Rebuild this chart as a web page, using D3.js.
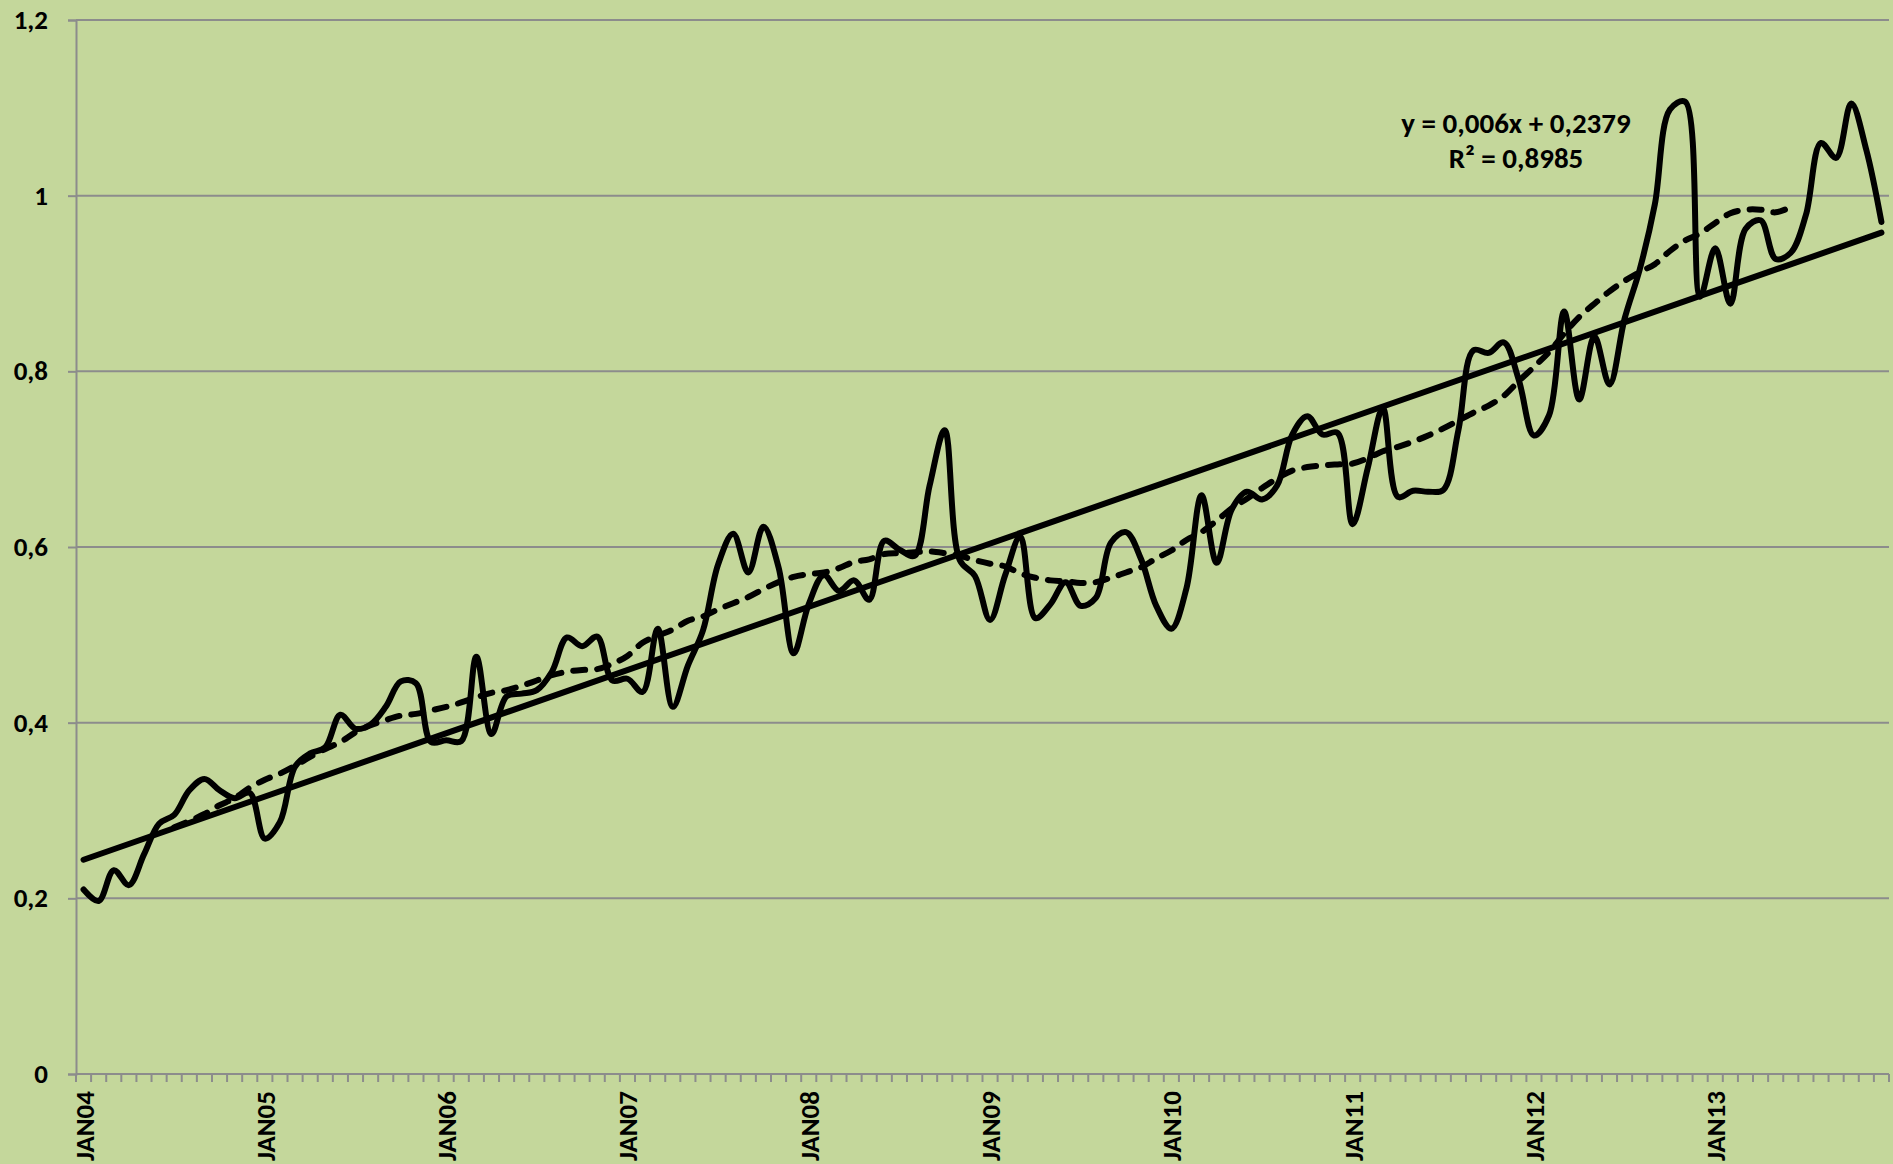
<!DOCTYPE html>
<html>
<head>
<meta charset="utf-8">
<script src="https://cdn.jsdelivr.net/npm/d3@7"></script>
<style>
html,body{margin:0;padding:0;background:#C4D79B;}
svg{display:block;}
text{font-family:Calibri,Carlito,Lato,"Open Sans",sans-serif;font-weight:bold;fill:#000;}
</style>
</head>
<body>
<svg id="chart" width="1893" height="1164"></svg>
<script>
const years = ["04","05","06","07","08","09","10","11","12","13"];
const monthNames = ["JAN","FEB","MAR","APR","MAY","JUN","JUL","AUG","SEP","OCT","NOV","DEC"];
const categories = [];
years.forEach(yr => monthNames.forEach(m => categories.push(m + yr)));
const tickLabels = ["JAN04","JAN05","JAN06","JAN07","JAN08","JAN09","JAN10","JAN11","JAN12","JAN13"];
const yTicks = [0,0.2,0.4,0.6,0.8,1,1.2];

const values = [
  0.210,0.197,0.232,0.215,0.250,0.285,0.295,0.323,0.336,0.323,0.314,0.320,
  0.268,0.287,0.350,0.365,0.372,0.409,0.393,0.398,0.418,0.447,0.445,0.378,
  0.380,0.379,0.475,0.387,0.430,0.433,0.437,0.458,0.497,0.487,0.498,0.448,
  0.450,0.435,0.507,0.418,0.465,0.505,0.580,0.615,0.571,0.623,0.577,0.479,
  0.535,0.568,0.550,0.562,0.540,0.607,0.597,0.590,0.670,0.733,0.585,0.567,
  0.517,0.568,0.612,0.519,0.535,0.560,0.533,0.542,0.605,0.617,0.586,0.533,
  0.507,0.553,0.659,0.582,0.643,0.663,0.654,0.670,0.728,0.749,0.728,0.730,
  0.626,0.690,0.758,0.657,0.664,0.663,0.665,0.733,0.824,0.821,0.833,0.790,
  0.727,0.750,0.868,0.768,0.840,0.785,0.860,0.916,0.990,1.098,1.107,0.885,
  0.940,0.877,0.962,0.972,0.928,0.935,0.978,1.060,1.043,1.105,1.052,0.970
];

// moving average series (dashed), begins at category index 6
const maStart = 6;
const maValues = [
  0.281,0.288,0.296,0.306,0.314,0.326,
  0.335,0.342,0.351,0.361,0.370,0.378,0.389,0.397,0.403,0.408,0.410,0.414,
  0.418,0.423,0.429,0.434,0.437,0.442,0.448,0.454,0.458,0.460,0.461,0.467,
  0.476,0.491,0.499,0.506,0.516,0.521,0.529,0.536,0.543,0.552,0.560,0.566,
  0.569,0.571,0.576,0.583,0.586,0.592,0.593,0.594,0.595,0.593,0.590,0.585,
  0.581,0.578,0.570,0.565,0.562,0.561,0.559,0.560,0.565,0.571,0.577,0.587,
  0.596,0.608,0.617,0.630,0.644,0.655,0.667,0.678,0.687,0.691,0.693,0.694,
  0.695,0.701,0.709,0.714,0.720,0.727,0.735,0.744,0.753,0.761,0.772,0.789,
  0.805,0.822,0.843,0.862,0.877,0.891,0.903,0.913,0.922,0.937,0.949,0.957,
  0.969,0.980,0.984,0.984,0.981,0.987
];

const trendSlope = 0.006, trendIntercept = 0.2379, trendR2 = "0,8985";

(function () {
const W = 1893, H = 1164;
const pL = 76, pR = 1889, pT = 20, pB = 1074;
const svg = d3.select("#chart");
svg.append("rect").attr("width", W).attr("height", H).attr("fill", "#C4D79B");

const x = d3.scaleBand().domain(categories).range([pL, pR]).padding(0);
const cx = c => x(c) + x.bandwidth() / 2;
const y = d3.scaleLinear().domain([0, 1.2]).range([pB, pT]);

const grid = "#8C8C8C";
svg.append("g").selectAll("line").data(yTicks.filter(t => t > 0)).join("line")
  .attr("x1", pL).attr("x2", pR)
  .attr("y1", d => y(d)).attr("y2", d => y(d))
  .attr("stroke", grid).attr("stroke-width", 2);

const yAxis = svg.append("g").attr("transform", `translate(${pL},0)`)
  .call(d3.axisLeft(y).tickValues(yTicks).tickSize(8).tickPadding(20)
    .tickFormat(d => d3.format(".1~f")(d).replace(".", ",")));
yAxis.select(".domain").attr("stroke", grid).attr("stroke-width", 2);
yAxis.selectAll(".tick line").attr("stroke", grid).attr("stroke-width", 2);
yAxis.selectAll(".tick text").style("font-size", "27px").attr("fill", "#000");

const xAxisG = svg.append("g").attr("transform", `translate(0,${pB})`);
xAxisG.append("line").attr("x1", pL).attr("x2", pR).attr("y1", 0).attr("y2", 0)
  .attr("stroke", grid).attr("stroke-width", 2);
const boundaries = categories.map(c => x(c)).concat([pR]);
xAxisG.selectAll("line.tk").data(boundaries).join("line").attr("class", "tk")
  .attr("x1", d => d).attr("x2", d => d).attr("y1", 0).attr("y2", 8)
  .attr("stroke", grid).attr("stroke-width", 2);
xAxisG.selectAll("text").data(tickLabels).join("text")
  .attr("transform", d => `translate(${cx(d) + 10},${17}) rotate(-90)`)
  .attr("text-anchor", "end")
  .style("font-size", "27px")
  .text(d => d);

const trendPts = [categories[0], categories[categories.length - 1]].map(c => {
  const idx = categories.indexOf(c) + 1;
  return [cx(c), y(trendSlope * idx + trendIntercept)];
});
svg.append("line")
  .attr("x1", trendPts[0][0]).attr("y1", trendPts[0][1])
  .attr("x2", trendPts[1][0]).attr("y2", trendPts[1][1])
  .attr("stroke", "#000").attr("stroke-width", 6).attr("stroke-linecap", "round");

const maData = maValues.map((v, i) => ({c: categories[maStart + i], v}));
const lineGen = d3.line().x(d => cx(d.c)).y(d => y(d.v)).curve(d3.curveCatmullRom.alpha(0.5));
svg.append("path").datum(maData).attr("d", lineGen)
  .attr("fill", "none").attr("stroke", "#000").attr("stroke-width", 6)
  .attr("stroke-dasharray", "12,12").attr("stroke-linecap", "round");

const mainData = values.map((v, i) => ({c: categories[i], v}));
svg.append("path").datum(mainData).attr("d", lineGen)
  .attr("fill", "none").attr("stroke", "#000").attr("stroke-width", 6)
  .attr("stroke-linejoin", "round").attr("stroke-linecap", "round");

const eq = svg.append("text").attr("text-anchor", "middle").style("font-size", "29px");
eq.append("tspan").attr("x", 1516).attr("y", 133).text("y = 0,006x + 0,2379");
eq.append("tspan").attr("x", 1516).attr("y", 168).text("R² = " + trendR2);
})();
</script>
</body>
</html>
